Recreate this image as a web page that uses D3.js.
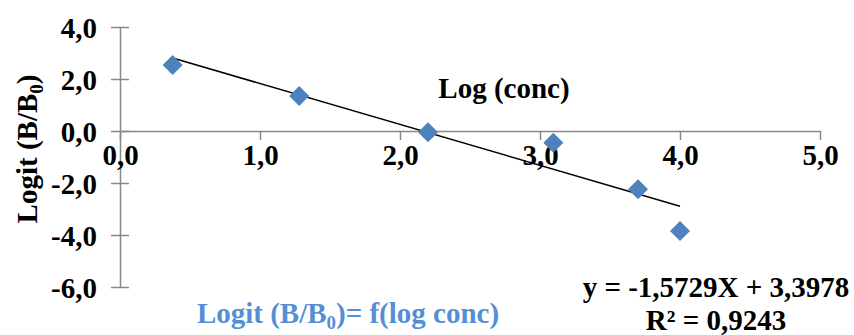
<!DOCTYPE html>
<html>
<head>
<meta charset="utf-8">
<script src="https://cdn.jsdelivr.net/npm/d3@7"></script>
<style>
  html, body { margin: 0; padding: 0; background: #fff; }
  svg { display: block; }
  text { font-family: "Liberation Serif", "Times New Roman", serif; font-weight: bold; }
</style>
</head>
<body>
<svg id="chart" width="854" height="335"></svg>
<script>
// data
const logConc = [0.376, 1.28, 2.20, 3.095, 3.70, 4.00];
const logitB  = [2.54, 1.35, -0.05, -0.45, -2.24, -3.85];
const xTicks = [0, 1, 2, 3, 4, 5];
const yTicks = [4, 2, 0, -2, -4, -6];
const slope = -1.5729, intercept = 3.3978, r2 = 0.9243;

const svg = d3.select('#chart');
const fmt = v => d3.format('.1f')(v).replace('.', ',').replace('−', '-');
const fmt4 = v => d3.format('.4f')(v).replace('.', ',').replace('−', '-');

const x = d3.scaleLinear().domain([0, 5]).range([120, 820]);
const y = d3.scaleLinear().domain([-6, 4]).range([287, 27]);

const axisColor = '#888888';
const fs = 29;

// y axis, ticks crossing the line
const gy = svg.append('g').attr('transform', `translate(${x(0)},0)`)
  .call(d3.axisLeft(y).tickValues(yTicks).tickSize(0).tickFormat(fmt));
gy.select('.domain').attr('stroke', axisColor).attr('stroke-width', 1.5);
gy.selectAll('.tick').append('line')
  .attr('x1', -9).attr('x2', 9).attr('stroke', axisColor).attr('stroke-width', 1.5);
gy.selectAll('.tick text')
  .attr('x', -23).attr('dy', '0.35em')
  .attr('font-size', fs).attr('fill', '#000');

// x axis at y = 0, ticks pointing down
const gx = svg.append('g').attr('transform', `translate(0,${y(0)})`)
  .call(d3.axisBottom(x).tickValues(xTicks).tickSize(9).tickSizeOuter(0).tickFormat(fmt));
gx.select('.domain').attr('stroke', axisColor).attr('stroke-width', 1.5);
gx.selectAll('.tick line').attr('stroke', axisColor).attr('stroke-width', 1.5);
gx.selectAll('.tick text')
  .attr('y', 13).attr('dy', '0.71em')
  .attr('font-size', fs).attr('fill', '#000');

// y axis title
const yt = svg.append('text')
  .attr('transform', `translate(37,149) rotate(-90)`)
  .attr('text-anchor', 'middle')
  .attr('font-size', fs).attr('fill', '#000');
yt.append('tspan').text('Logit (B/B');
yt.append('tspan').attr('font-size', fs * 0.65).attr('dy', 6).text('0');
yt.append('tspan').attr('dy', -6).text(')');

// x axis title
svg.append('text')
  .attr('x', 504).attr('y', 98)
  .attr('text-anchor', 'middle')
  .attr('font-size', fs).attr('fill', '#000')
  .text('Log (conc)');

// trendline over the data range
const xr = d3.extent(logConc);
svg.append('line')
  .attr('x1', x(xr[0])).attr('y1', y(slope * xr[0] + intercept))
  .attr('x2', x(xr[1])).attr('y2', y(slope * xr[1] + intercept))
  .attr('stroke', '#000').attr('stroke-width', 1.5);

// markers
const sym = d3.symbol().type(d3.symbolSquare).size(200);
svg.append('g').selectAll('path')
  .data(logConc.map((v, i) => [v, logitB[i]]))
  .join('path')
  .attr('d', sym)
  .attr('transform', d => `translate(${x(d[0])},${y(d[1])}) rotate(45)`)
  .attr('fill', '#4f81bd');

// series legend text
const lg = svg.append('text')
  .attr('x', 348).attr('y', 323)
  .attr('text-anchor', 'middle')
  .attr('font-size', fs).attr('fill', '#558ed5');
lg.append('tspan').text('Logit (B/B');
lg.append('tspan').attr('font-size', fs * 0.65).attr('dy', 6).text('0');
lg.append('tspan').attr('dy', -6).text(')= f(log conc)');

// trendline label, two separate lines
svg.append('text')
  .attr('x', 716).attr('y', 297)
  .attr('text-anchor', 'middle')
  .attr('font-size', fs).attr('fill', '#000')
  .text(`y = ${fmt4(slope)}X + ${fmt4(intercept)}`);
svg.append('text')
  .attr('x', 716).attr('y', 330)
  .attr('text-anchor', 'middle')
  .attr('font-size', fs).attr('fill', '#000')
  .text(`R² = ${fmt4(r2)}`);
</script>
</body>
</html>
